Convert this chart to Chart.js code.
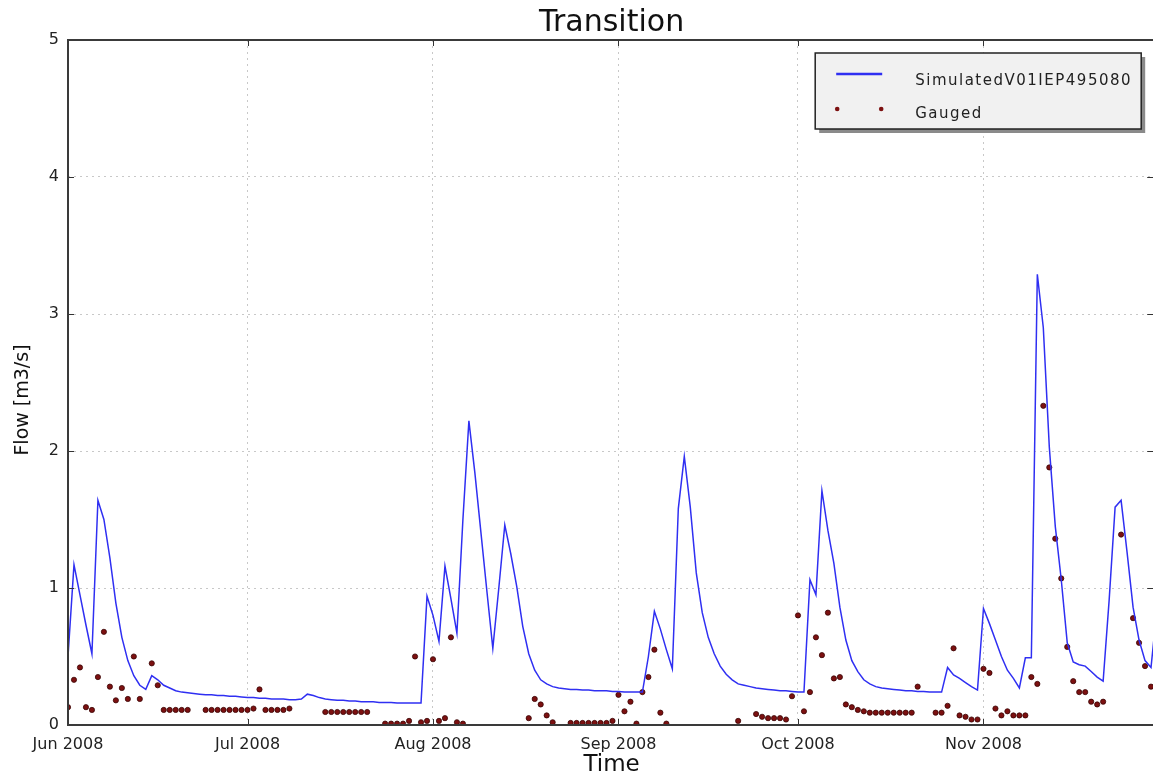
<!DOCTYPE html>
<html>
<head>
<meta charset="utf-8">
<script src="https://cdn.jsdelivr.net/npm/chart.js@4"></script>
<style>
  html, body { margin: 0; padding: 0; background: #fff; overflow: hidden; }
</style>
</head>
<body>
<canvas id="flowChart" width="1160" height="779"></canvas>
<script>
// day 0 = 1 Jun 2008, one value per day
const monthStarts = [0, 30, 61, 92, 122, 153];
const monthLabels = ['Jun 2008', 'Jul 2008', 'Aug 2008', 'Sep 2008', 'Oct 2008', 'Nov 2008'];

const simulated = [
  0.50, 1.17, 0.95, 0.73, 0.52, 1.64, 1.50, 1.22, 0.89, 0.64,
  0.47, 0.36, 0.29, 0.26, 0.36, 0.33, 0.29, 0.27, 0.25, 0.24,
  0.235, 0.23, 0.225, 0.22, 0.22, 0.215, 0.215, 0.21, 0.21, 0.205,
  0.20, 0.20, 0.195, 0.195, 0.19, 0.19, 0.19, 0.185, 0.185, 0.19,
  0.225, 0.215, 0.20, 0.19, 0.185, 0.18, 0.18, 0.175, 0.175, 0.17,
  0.17, 0.17, 0.165, 0.165, 0.165, 0.16, 0.16, 0.16, 0.16, 0.16,
  0.94, 0.80, 0.61, 1.16, 0.92, 0.67, 1.50, 2.22, 1.84, 1.41,
  0.98, 0.56, 1.00, 1.46, 1.25, 1.01, 0.72, 0.52, 0.40, 0.33,
  0.30, 0.28, 0.27, 0.265, 0.26, 0.26, 0.255, 0.255, 0.25, 0.25,
  0.25, 0.245, 0.245, 0.24, 0.24, 0.24, 0.24, 0.50, 0.83, 0.70,
  0.55, 0.41, 1.58, 1.96, 1.59, 1.11, 0.82, 0.64, 0.52, 0.43,
  0.37, 0.33, 0.30, 0.29, 0.28, 0.27, 0.265, 0.26, 0.255, 0.25,
  0.25, 0.245, 0.24, 0.24, 1.06, 0.95, 1.71, 1.42, 1.18, 0.86,
  0.62, 0.47, 0.39, 0.33, 0.30, 0.28, 0.27, 0.265, 0.26, 0.255,
  0.25, 0.25, 0.245, 0.245, 0.24, 0.24, 0.24, 0.42, 0.365, 0.34,
  0.31, 0.28, 0.255, 0.85, 0.74, 0.62, 0.50, 0.40, 0.34, 0.27,
  0.49, 0.49, 3.29, 2.90, 2.03, 1.45, 1.06, 0.60, 0.46, 0.44,
  0.43, 0.39, 0.35, 0.32, 0.91, 1.59, 1.64, 1.26, 0.86, 0.62,
  0.47, 0.42, 0.85
];

const gauged = [
  0.13, 0.33, 0.42, 0.13, 0.11, 0.35, 0.68, 0.28, 0.18, 0.27,
  0.19, 0.50, 0.19, null, 0.45, 0.29, 0.11, 0.11, 0.11, 0.11,
  0.11, null, null, 0.11, 0.11, 0.11, 0.11, 0.11, 0.11, 0.11,
  0.11, 0.12, 0.26, 0.11, 0.11, 0.11, 0.11, 0.12, null, null,
  null, null, null, 0.095, 0.095, 0.095, 0.095, 0.095, 0.095, 0.095,
  0.095, null, null, 0.01, 0.01, 0.01, 0.01, 0.03, 0.50, 0.02,
  0.03, 0.48, 0.03, 0.05, 0.64, 0.02, 0.01, null, null, null,
  null, null, null, null, null, null, null, 0.05, 0.19, 0.15,
  0.07, 0.02, null, null, 0.015, 0.015, 0.015, 0.015, 0.015, 0.015,
  0.015, 0.03, 0.22, 0.10, 0.17, 0.01, 0.24, 0.35, 0.55, 0.09,
  0.01, null, null, null, null, null, null, null, null, null,
  null, null, 0.03, null, null, 0.08, 0.06, 0.05, 0.05, 0.05,
  0.04, 0.21, 0.80, 0.10, 0.24, 0.64, 0.51, 0.82, 0.34, 0.35,
  0.15, 0.13, 0.11, 0.10, 0.09, 0.09, 0.09, 0.09, 0.09, 0.09,
  0.09, 0.09, 0.28, null, null, 0.09, 0.09, 0.14, 0.56, 0.07,
  0.06, 0.04, 0.04, 0.41, 0.38, 0.12, 0.07, 0.10, 0.07, 0.07,
  0.07, 0.35, 0.30, 2.33, 1.88, 1.36, 1.07, 0.57, 0.32, 0.24,
  0.24, 0.17, 0.15, 0.17, null, null, 1.39, null, 0.78, 0.60,
  0.43, 0.28
];

const chartTitle = 'Transition';
const yLabel = 'Flow [m3/s]';
const FONT = 'DejaVu Sans';

const simPoints = simulated.map((v, i) => ({ x: i, y: v }));
const gaugedPoints = gauged.map((v, i) => ({ x: i, y: v })).filter(p => p.y !== null);

// matplotlib-like frame, inward ticks, titles and boxed legend
const frameAndLegend = {
    id: 'frameAndLegend',
    afterDraw(chart) {
        const { ctx, chartArea: a, scales } = chart;
        ctx.save();

        ctx.strokeStyle = '#333';
        ctx.lineWidth = 1;
        ctx.beginPath();
        scales.x.ticks.forEach(t => {
            const px = Math.round(scales.x.getPixelForValue(t.value)) + 0.5;
            ctx.moveTo(px, a.bottom); ctx.lineTo(px, a.bottom - 6);
            ctx.moveTo(px, a.top); ctx.lineTo(px, a.top + 6);
        });
        scales.y.ticks.forEach(t => {
            const py = Math.round(scales.y.getPixelForValue(t.value)) + 0.5;
            ctx.moveTo(a.left, py); ctx.lineTo(a.left + 6, py);
            ctx.moveTo(a.right - 1, py); ctx.lineTo(a.right - 8, py);
        });
        ctx.stroke();

        ctx.lineWidth = 2;
        ctx.strokeStyle = '#3a3a3a';
        ctx.strokeRect(a.left, a.top, a.right - a.left, a.bottom - a.top);

        // titles
        ctx.fillStyle = '#111';
        ctx.textAlign = 'center';
        ctx.textBaseline = 'middle';
        ctx.font = '30px "' + FONT + '"';
        ctx.fillText(chartTitle, (a.left + a.right) / 2, 23);

        ctx.save();
        ctx.translate(23, 400);
        ctx.rotate(-Math.PI / 2);
        ctx.font = '19px "' + FONT + '"';
        ctx.fillText(yLabel, 0, 0);
        ctx.restore();

        // legend box
        const w = 326, h = 76;
        const bx = a.right - 14 - w, by = a.top + 13;
        ctx.fillStyle = '#8a8a8a';
        ctx.fillRect(bx + 4, by + 4, w, h);
        ctx.fillStyle = '#f1f1f1';
        ctx.fillRect(bx, by, w, h);
        ctx.lineWidth = 1.5;
        ctx.strokeStyle = '#222';
        ctx.strokeRect(bx, by, w, h);

        const [sim, gau] = chart.data.datasets;
        ctx.strokeStyle = sim.borderColor;
        ctx.lineWidth = 2.5;
        ctx.beginPath();
        ctx.moveTo(bx + 21, by + 21); ctx.lineTo(bx + 67, by + 21);
        ctx.stroke();

        [bx + 22, bx + 66].forEach(cx => {
            ctx.beginPath();
            ctx.arc(cx, by + 56, 2.3, 0, Math.PI * 2);
            ctx.fillStyle = gau.pointBackgroundColor;
            ctx.fill();
        });

        ctx.fillStyle = '#222';
        ctx.textAlign = 'left';
        ctx.font = '15px "' + FONT + '"';
        ctx.letterSpacing = '1.5px';
        ctx.fillText(sim.label, bx + 100, by + 28);
        ctx.fillText(gau.label, bx + 100, by + 61);
        ctx.restore();
    }
};

new Chart(document.getElementById('flowChart'), {
    type: 'line',
    data: {
        datasets: [
            {
                label: 'SimulatedV01IEP495080',
                data: simPoints,
                borderColor: '#2f2ff2',
                borderWidth: 1.5,
                pointRadius: 0,
                tension: 0,
                clip: 0
            },
            {
                label: 'Gauged',
                data: gaugedPoints,
                showLine: false,
                pointRadius: 2.6,
                pointBackgroundColor: '#7c1010',
                pointBorderColor: '#3a0505',
                pointBorderWidth: 0.8,
                clip: 0
            }
        ]
    },
    options: {
        responsive: false,
        devicePixelRatio: 1,
        animation: false,
        layout: { padding: { left: 0, right: 0, top: 40, bottom: 0 } },
        plugins: {
            legend: { display: false },
            tooltip: { enabled: false },
            title: { display: false }
        },
        scales: {
            x: {
                type: 'linear',
                min: 0,
                max: 181.7,
                afterBuildTicks: s => { s.ticks = monthStarts.map(v => ({ value: v })); },
                afterFit: s => { s.height = 54; s.paddingLeft = 0; s.paddingRight = 0; },
                grid: { color: '#c8c8c8', lineWidth: 1, drawTicks: false },
                border: { display: false, dash: [2, 4] },
                ticks: {
                    autoSkip: false,
                    maxRotation: 0,
                    padding: 10,
                    color: '#222',
                    font: { family: FONT, size: 16 },
                    callback: v => monthLabels[monthStarts.indexOf(v)]
                },
                title: {
                    display: true,
                    text: 'Time',
                    color: '#111',
                    font: { family: FONT, size: 23 },
                    padding: { top: 0, bottom: 0 }
                }
            },
            y: {
                min: 0,
                max: 5,
                afterFit: s => { s.width = 68; s.paddingTop = 0; s.paddingBottom = 0; },
                grid: { color: '#c8c8c8', lineWidth: 1, drawTicks: false },
                border: { display: false, dash: [2, 4] },
                ticks: {
                    stepSize: 1,
                    padding: 9,
                    color: '#222',
                    font: { family: FONT, size: 16 }
                }
            }
        }
    },
    plugins: [frameAndLegend]
});
</script>
</body>
</html>
